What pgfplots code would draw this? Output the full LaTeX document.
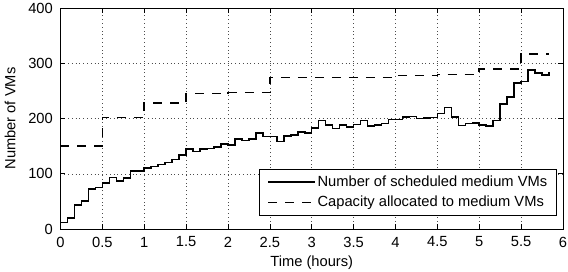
\documentclass[border=0pt]{standalone}
\usepackage{fontspec}
\setmainfont{Liberation Sans}
\usepackage{pgfplots}
\pgfplotsset{compat=1.18}
\begin{document}
\fontsize{14.7}{17}\selectfont
\begin{tikzpicture}
\begin{axis}[
  scale only axis, width=502.5pt, height=221pt,
  xmin=0, xmax=6, ymin=0, ymax=400,
  xtick={0,0.5,1,1.5,2,2.5,3,3.5,4,4.5,5,5.5,6},
  xticklabels={0,0.5,1,1.5,2,2.5,3,3.5,4,4.5,5,5.5,6},
  ytick={0,100,200,300,400},
  yticklabels={0,100,200,300,400},
  tick align=inside, major tick length=5pt,
  axis line style={line width=0.8pt},
  every tick/.style={black, line width=0.6pt},
  grid=major,
  major grid style={black!70, line width=0.5pt, dash pattern=on 0.8pt off 3pt},
  xticklabel style={inner sep=0pt, anchor=center, yshift=-13pt},
  yticklabel style={inner sep=0pt, anchor=east, xshift=-7.5pt},
  every axis x label/.style={at={(axis description cs:0.5,0)}, anchor=center, yshift=-34pt},
  every axis y label/.style={at={(axis description cs:0,0.5)}, xshift=-50.5pt, anchor=center, rotate=90},
  xlabel={Time (hours)},
  ylabel={Number of VMs},
  legend cell align=left,
  legend image code/.code={\draw[#1, line width=1.4pt] (0pt,0pt) -- (47pt,0pt);},
  legend style={at={(1,0)}, anchor=south east, xshift=-6pt, yshift=13pt,
    draw=black, line width=0.6pt, fill=white, inner xsep=8pt, inner ysep=2.5pt,
    row sep=0pt, nodes={inner xsep=1.5pt, inner ysep=4pt}},
]
\addplot[const plot, black, line width=1.5pt] coordinates {
(0,12) (0.0833,20) (0.1667,43) (0.25,51) (0.3333,72) (0.4167,75)
(0.5,83) (0.5833,93) (0.6667,87) (0.75,92) (0.8333,105) (0.9167,105)
(1,110) (1.0833,113) (1.1667,117) (1.25,120) (1.3333,126) (1.4167,134)
(1.5,145) (1.5833,140) (1.6667,145) (1.75,146) (1.8333,148) (1.9167,154)
(2,152) (2.0833,163) (2.1667,160) (2.25,163) (2.3333,174) (2.4167,167)
(2.5,167) (2.5833,158) (2.6667,168) (2.75,170) (2.8333,176) (2.9167,174)
(3,183) (3.0833,196) (3.1667,188) (3.25,182) (3.3333,188) (3.4167,185)
(3.5,189) (3.5833,196) (3.6667,186) (3.75,188) (3.8333,191) (3.9167,198)
(4,198) (4.0833,203) (4.1667,204) (4.25,200) (4.3333,201) (4.4167,202)
(4.5,209) (4.5833,220) (4.6667,203) (4.75,187) (4.8333,191) (4.9167,192)
(5,188) (5.0833,186) (5.1667,196) (5.25,226) (5.3333,239) (5.4167,264)
(5.5,267) (5.5833,288) (5.6667,282) (5.75,279) (5.8333,284)
};
\addlegendentry{Number of scheduled medium VMs}
\addplot[const plot, black, line width=1.5pt, dash pattern=on 9pt off 8pt] coordinates {
(0,150) (0.5,202) (1,228) (1.5,245) (2,247) (2.5,274) (4,278) (4.5,280)
(5,290) (5.5,317) (5.8333,317)
};
\addlegendentry{Capacity allocated to medium VMs}
\end{axis}
\pgfresetboundingbox
\useasboundingbox (-60.5pt,-42pt) rectangle (507.5pt,229pt);
\end{tikzpicture}
\end{document}
